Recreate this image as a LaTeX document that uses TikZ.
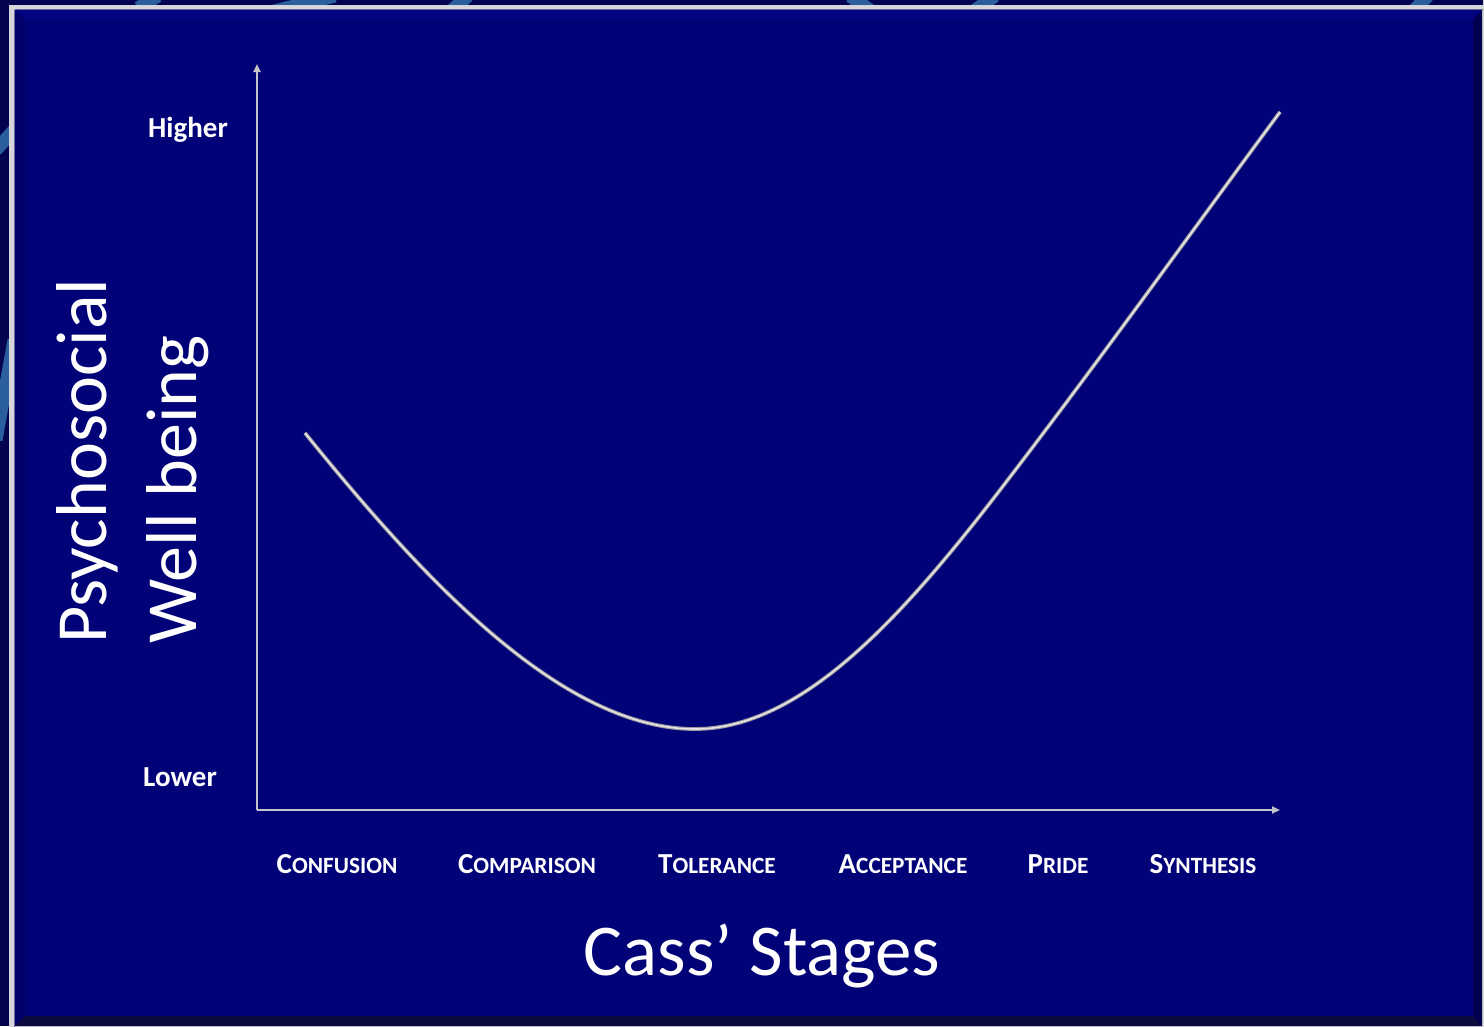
\documentclass[tikz,border=0pt]{standalone}
\usepackage{fontspec}
\setmainfont{Carlito}
\usetikzlibrary{arrows.meta}
\definecolor{outerbg}{HTML}{03034F}
\definecolor{swirl}{HTML}{2A5E9E}
\definecolor{framegray}{HTML}{D6D6DA}
\definecolor{frameedge}{HTML}{6A6AA0}
\definecolor{panel}{HTML}{020278}
\definecolor{bevelleft}{HTML}{01016C}
\definecolor{beveltop}{HTML}{030380}
\definecolor{bevelright}{HTML}{00004E}
\definecolor{bevelbottom}{HTML}{0A0A3E}
\definecolor{axisgray}{HTML}{C4C4C8}
\definecolor{curveouter}{HTML}{9A9AA0}
\definecolor{curveinner}{HTML}{E4E4E4}
\newcommand\stagesc[2]{{\fontsize{29}{32}\selectfont #1}{\fontsize{23.3}{32}\selectfont #2}}
\begin{document}
\begin{tikzpicture}[x=1pt,y=-1pt,
  axis/.style={draw=axisgray,line width=2pt,-{Triangle[length=8pt,width=7pt]}},
  levellabel/.style={text=white,font=\bfseries\fontsize{29}{32}\selectfont,inner sep=0pt,anchor=base},
  stagelabel/.style={text=white,font=\bfseries,inner sep=0pt,anchor=base},
  titlelabel/.style={text=white,font=\fontsize{73}{86}\selectfont,inner sep=0pt,anchor=base},
  ylabel/.style={text=white,font=\fontsize{72}{86}\selectfont,inner sep=0pt,anchor=base west,rotate=90},
  swirlstroke/.style={draw=swirl,line width=13pt}]
\useasboundingbox (0,0) rectangle (1484,1026);
% slide background
\fill[outerbg] (0,0) rectangle (1484,1026);
\draw[swirlstroke] (158,-4) -- (138,8);
\draw[swirlstroke] (270,12) -- (335,-4);
\draw[swirlstroke] (452,10) -- (468,-4);
\draw[swirlstroke] (850,-4) -- (870,10);
\draw[swirlstroke] (995,-4) -- (975,10);
\draw[swirlstroke] (1428,-4) -- (1414,10);
\draw[swirlstroke] (-4,150) -- (14,130);
\draw[swirlstroke] (-4,440) -- (14,340);
% frame
\fill[framegray] (9,5) rectangle (1490,1030);
\draw[frameedge,line width=1pt] (14.5,9.5) -- (14.5,1030);
\draw[frameedge,line width=1pt] (14.5,9.5) -- (1490,9.5);
% panel with bevels
\fill[panel] (15,10) rectangle (1482,1026);
\fill[beveltop] (15,10) -- (1482,10) -- (1473,20) -- (25,20) -- cycle;
\fill[bevelleft] (15,10) -- (25,20) -- (25,1016) -- (15,1026) -- cycle;
\fill[bevelright] (1482,10) -- (1482,1026) -- (1473,1016) -- (1473,20) -- cycle;
\fill[bevelbottom] (15,1026) -- (1482,1026) -- (1473,1016) -- (25,1016) -- cycle;
\draw[framegray,line width=2pt] (1483.5,0) -- (1483.5,1026);
% axes
\coordinate (O) at (257,810);
\coordinate (Ytop) at (257,64);
\coordinate (Xend) at (1280,810);
\draw[axis] (O) -- (Ytop);
\draw[axis] (O) -- (Xend);
% curve
\coordinate (cstart) at (305,433);
\coordinate (cmin) at (695,729);
\coordinate (cmid) at (1000,490);
\coordinate (cend) at (1280,112);
\foreach \w/\c in {3.8pt/curveouter,1.6pt/curveinner}{
\draw[\c,line width=\w] (cstart) .. controls (420,575) and (560,729) .. (cmin)
  .. controls (800,729) and (900,620) .. (cmid)
  .. controls (1100,360) and (1200,220) .. (cend);
}
% level labels
\node[levellabel] (higher) at (188,137) {Higher};
\node[levellabel] (lower) at (180,786) {Lower};
% stage labels
\node[stagelabel] (confusion) at (337,873) {\stagesc{C}{ONFUSION}};
\node[stagelabel] (comparison) at (527,873) {\stagesc{C}{OMPARISON}};
\node[stagelabel] (tolerance) at (717,873) {\stagesc{T}{OLERANCE}};
\node[stagelabel] (acceptance) at (903,873) {\stagesc{A}{CCEPTANCE}};
\node[stagelabel] (pride) at (1058,873) {\stagesc{P}{RIDE}};
\node[stagelabel] (synthesis) at (1203,873) {\stagesc{S}{YNTHESIS}};
% axis titles
\node[titlelabel] (stages) at (762,975) {Cass’ Stages};
\node[ylabel] (psy) at (106,644) {Psychosocial};
\node[ylabel] (well) at (196,644) {Well being};
\end{tikzpicture}
\end{document}
